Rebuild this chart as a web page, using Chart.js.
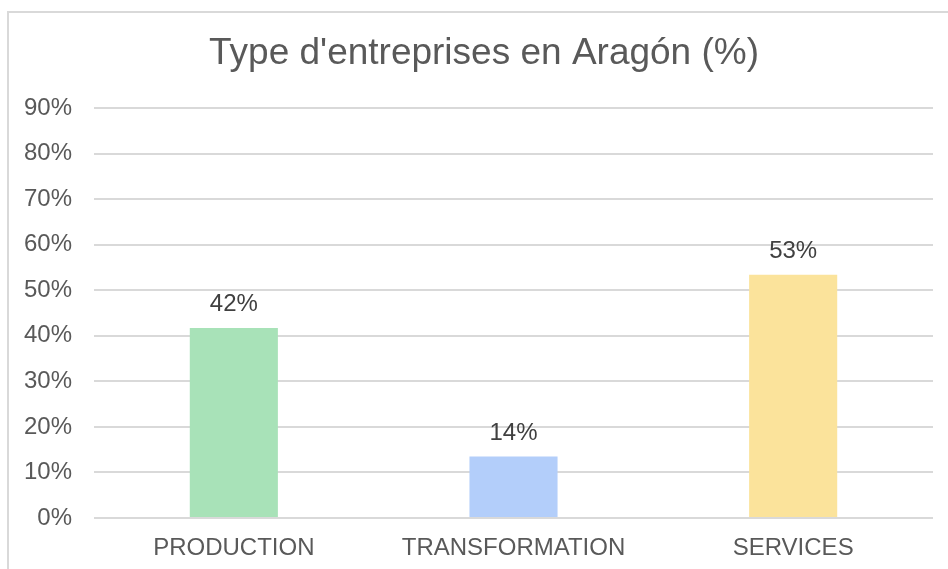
<!DOCTYPE html>
<html>
<head>
<meta charset="utf-8">
<script src="https://cdn.jsdelivr.net/npm/chart.js@4/dist/chart.umd.min.js"></script>
<style>
  html, body { margin: 0; padding: 0; background: #fff; }
  #wrap { position: relative; width: 948px; height: 569px; overflow: hidden; }
  #frame { position: absolute; left: 7px; top: 11px; width: 1000px; height: 700px;
           border: 2px solid #d9d9d9; box-sizing: border-box; }
  canvas { position: absolute; left: 0; top: 0; }
</style>
</head>
<body>
<div id="wrap">
  <div id="frame"></div>
  <canvas id="chart" width="948" height="569"></canvas>
</div>
<script>
const categories = ['PRODUCTION', 'TRANSFORMATION', 'SERVICES'];
const values = [41.7, 13.5, 53.4];
const barColors = ['#a8e2b8', '#b3cefa', '#fbe39b'];
const yTicks = [0, 10, 20, 30, 40, 50, 60, 70, 80, 90];
const chartTitle = "Type d'entreprises en Aragón (%)";

const fontFamily = '"Liberation Sans", Arial, sans-serif';

// title is centred on the frame, not on the canvas, so it is drawn here
const frameTitle = {
  id: 'frameTitle',
  afterDraw(chart) {
    const ctx = chart.ctx;
    ctx.save();
    ctx.font = '37px ' + fontFamily;
    ctx.fillStyle = '#595959';
    ctx.textAlign = 'center';
    ctx.textBaseline = 'middle';
    ctx.fillText(chartTitle, 484, 54);
    ctx.restore();
  }
};

// draws the value above each bar
const valueLabels = {
  id: 'valueLabels',
  afterDatasetsDraw(chart) {
    const ctx = chart.ctx;
    const meta = chart.getDatasetMeta(0);
    ctx.save();
    ctx.font = '24px ' + fontFamily;
    ctx.fillStyle = '#404040';
    ctx.textAlign = 'center';
    ctx.textBaseline = 'alphabetic';
    meta.data.forEach((bar, i) => {
      ctx.fillText(Math.round(values[i]) + '%', bar.x, bar.y - 17);
    });
    ctx.restore();
  }
};

new Chart(document.getElementById('chart'), {
  type: 'bar',
  data: {
    labels: categories,
    datasets: [{
      data: values,
      backgroundColor: barColors,
      borderWidth: 0,
      barPercentage: 0.315,
      categoryPercentage: 1
    }]
  },
  options: {
    responsive: false,
    animation: false,
    devicePixelRatio: 1,
    layout: { padding: { top: 108, right: 15, bottom: 0, left: 0 } },
    plugins: {
      legend: { display: false },
      tooltip: { enabled: false },
      title: { display: false }
    },
    scales: {
      x: {
        afterFit(scale) {
          scale.height = 51;
        },
        grid: { display: false, drawTicks: false },
        border: { display: false },
        ticks: {
          color: '#595959',
          padding: 16,
          font: { family: fontFamily, size: 24 }
        }
      },
      y: {
        min: 0,
        max: 90,
        afterBuildTicks(scale) {
          scale.ticks = yTicks.map(v => ({ value: v }));
        },
        afterFit(scale) {
          scale.width = 94;
        },
        grid: { color: '#d9d9d9', lineWidth: 2, drawTicks: false },
        border: { display: false },
        ticks: {
          color: '#595959',
          padding: 22,
          font: { family: fontFamily, size: 24 },
          callback: v => v + '%'
        }
      }
    }
  },
  plugins: [valueLabels, frameTitle]
});
</script>
</body>
</html>
